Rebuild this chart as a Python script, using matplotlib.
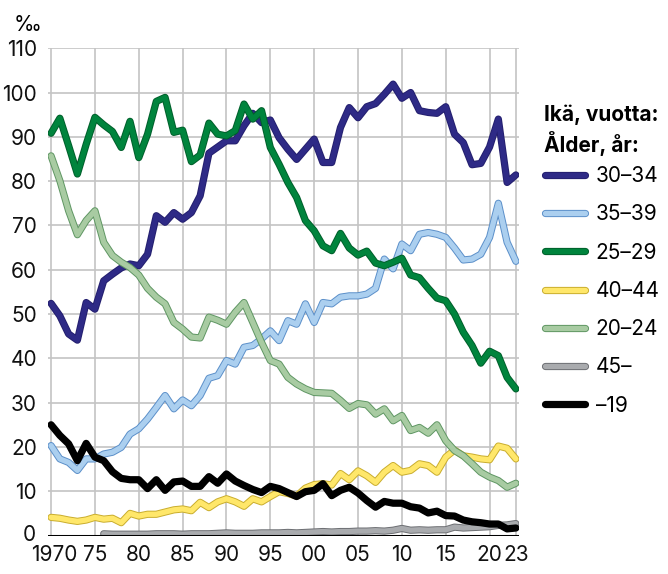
import matplotlib
matplotlib.use("Agg")
import matplotlib.pyplot as plt
import matplotlib.patheffects as pe
import matplotlib.transforms as mtransforms

plt.rcParams['font.family'] = ['Inter', 'DejaVu Sans']

years = list(range(1970, 2024))
years_45 = list(range(1976, 2024))

# 30-34
a30_34 = [52.4, 49.6, 45.5, 44.1, 52.6, 51.1, 57.5, 59.0, 60.4, 61.3,
          60.9, 63.5, 72.2, 70.7, 72.9, 71.4, 72.9, 76.7, 86.3, 87.7,
          89.1, 89.1, 92.5, 95.3, 93.2, 93.8, 89.8, 87.2, 84.9, 87.2,
          89.5, 84.2, 84.2, 92.1, 96.6, 94.3, 96.8, 97.5, 99.6, 101.9,
          98.7, 100.0, 95.9, 95.5, 95.3, 96.8, 90.6, 88.7, 83.7, 84.0,
          87.7, 94.0, 79.7, 81.4]
# 35-39
a35_39 = [20.3, 17.3, 16.5, 14.7, 17.3, 17.3, 18.4, 18.8, 19.9, 22.9,
          24.1, 26.3, 28.9, 31.6, 28.6, 30.6, 29.3, 31.6, 35.5, 36.1,
          39.5, 38.7, 42.5, 42.9, 44.4, 46.2, 44.0, 48.5, 47.7, 52.3,
          48.1, 52.6, 52.3, 53.8, 54.1, 54.1, 54.5, 55.8, 62.4, 60.2,
          65.8, 64.3, 68.0, 68.4, 68.0, 67.3, 64.9, 62.2, 62.4, 63.5,
          67.3, 75.0, 66.2, 61.9]
# 25-29
a25_29 = [90.8, 94.2, 88.0, 81.6, 88.3, 94.4, 92.7, 91.2, 87.6, 93.5,
          85.3, 90.6, 98.0, 98.9, 91.0, 91.5, 84.4, 85.9, 93.1, 90.6,
          90.2, 91.4, 97.4, 94.0, 95.9, 87.6, 83.8, 79.7, 76.3, 71.1,
          68.8, 65.4, 64.3, 68.2, 64.9, 63.3, 64.2, 61.5, 60.9, 61.7,
          62.6, 58.8, 58.2, 55.8, 53.6, 53.0, 50.0, 45.9, 42.9, 38.9,
          41.6, 40.6, 35.7, 33.1]
# 40-44
a40_44 = [4.1, 3.9, 3.5, 3.2, 3.5, 4.1, 3.7, 3.9, 2.9, 5.0,
          4.4, 4.8, 4.8, 5.3, 5.8, 6.0, 5.6, 7.5, 6.3, 7.6,
          8.3, 7.6, 6.6, 8.3, 7.6, 8.8, 9.9, 9.5, 8.9, 10.7,
          11.5, 11.7, 11.4, 14.0, 12.6, 14.6, 13.5, 12.0, 14.3, 15.8,
          14.3, 14.7, 16.2, 15.8, 14.3, 17.7, 19.3, 18.0, 17.7, 17.3,
          17.1, 20.2, 19.7, 17.3]
# 20-24
a20_24 = [85.7, 80.1, 73.3, 67.9, 71.1, 73.3, 66.2, 63.2, 61.7, 60.5,
          58.8, 55.8, 53.8, 52.3, 48.1, 46.6, 44.8, 44.6, 49.3, 48.6,
          47.7, 50.4, 52.6, 48.1, 43.6, 39.5, 38.7, 35.7, 34.2, 33.1,
          32.3, 32.2, 32.1, 30.5, 28.7, 29.8, 29.5, 27.4, 28.6, 25.9,
          27.1, 23.7, 24.4, 23.1, 25.0, 21.4, 19.2, 18.0, 16.2, 14.3,
          13.2, 12.4, 10.9, 11.8]
# 45-
a45 = [0.4, 0.3, 0.3, 0.3, 0.3, 0.3, 0.4, 0.4, 0.4, 0.3,
       0.4, 0.4, 0.4, 0.5, 0.6, 0.5, 0.5, 0.5, 0.6, 0.6,
       0.6, 0.7, 0.6, 0.7, 0.8, 0.9, 0.8, 0.9, 0.9, 1.0,
       1.0, 1.1, 1.0, 1.2, 1.6, 1.2, 1.3, 1.2, 1.3, 1.3,
       1.9, 1.7, 1.8, 1.9, 2.0, 2.3, 2.4, 2.7]
# -19
a19 = [25.0, 22.6, 20.7, 16.9, 20.8, 17.7, 16.9, 14.4, 12.9, 12.6,
       12.6, 10.6, 12.6, 10.2, 12.1, 12.3, 11.1, 11.1, 13.3, 11.8,
       13.9, 12.3, 11.3, 10.4, 9.7, 11.1, 10.6, 9.7, 8.8, 9.9,
       10.2, 11.7, 9.0, 10.2, 10.9, 9.6, 7.9, 6.4, 7.7, 7.3,
       7.3, 6.5, 6.2, 5.1, 5.5, 4.5, 4.4, 3.5, 3.1, 2.9,
       2.6, 2.6, 1.5, 1.7]

xticks = [1970, 1975, 1980, 1985, 1990, 1995, 2000, 2005, 2010, 2015, 2020, 2023]
xlabels = ['1970', '75', '80', '85', '90', '95', '00', '05', '10', '15', '20', '23']
yticks = list(range(0, 111, 10))

# (label, x, y, fill colour, edge colour)
series = [
    ('30–34', years, a30_34, '#2e2a86', '#241f6e'),
    ('35–39', years, a35_39, '#abcfef', '#5b8fc9'),
    ('25–29', years, a25_29, '#00843d', '#005f2b'),
    ('40–44', years, a40_44, '#ffe76a', '#c9ad2e'),
    ('20–24', years, a20_24, '#a8cba2', '#5f9663'),
    ('45–', years_45, a45, '#a9abae', '#6d6f73'),
    ('–19', years, a19, '#000000', '#000000'),
]

fig = plt.figure(figsize=(6.68, 5.74), dpi=100)
ax = fig.add_axes([0.072, 0.067, 0.705, 0.849])

for label, x, y, col, edge in series:
    ax.plot(x, y, color=col, lw=3.8, label=label,
            solid_capstyle='round', solid_joinstyle='round',
            path_effects=[pe.Stroke(linewidth=5.2, foreground=edge),
                          pe.Normal()])

ax.axhline(0, color='black', lw=2.2, zorder=5)

ax.set_xlim(1969.66, 2023.36)
ax.set_ylim(0, 110)
ax.set_xticks(xticks)
ax.set_xticklabels(xlabels)
ax.set_yticks(yticks)
ax.tick_params(length=0, labelsize=15, colors='#111111')
ax.tick_params(axis='y', pad=8)
ax.tick_params(axis='x', pad=7)
ax.grid(True, color='#c4c4c4', lw=1.2)
ax.set_axisbelow(True)
for s in ax.spines.values():
    s.set_visible(False)

# nudge the corner labels apart a little
ylab0 = ax.get_yticklabels()[0]
ylab0.set_transform(ylab0.get_transform() +
                    mtransforms.ScaledTranslation(-1 / 100, 3 / 100, fig.dpi_scale_trans))
xlab0 = ax.get_xticklabels()[0]
xlab0.set_transform(xlab0.get_transform() +
                    mtransforms.ScaledTranslation(3 / 100, 0, fig.dpi_scale_trans))

fig.text(0.02, 0.957, '‰', fontsize=15, ha='left', va='center')

fig.text(0.814, 0.773, 'Ikä, vuotta:\nÅlder, år:', fontsize=15,
         fontweight='bold', ha='left', va='center', linespacing=1.25)

leg = ax.legend(loc='upper left', bbox_to_anchor=(1.037, 0.775),
                fontsize=15, frameon=False, handlelength=1.95,
                handletextpad=0.5, labelspacing=0.875, borderaxespad=0)

fig.savefig('out.png', dpi=100)
